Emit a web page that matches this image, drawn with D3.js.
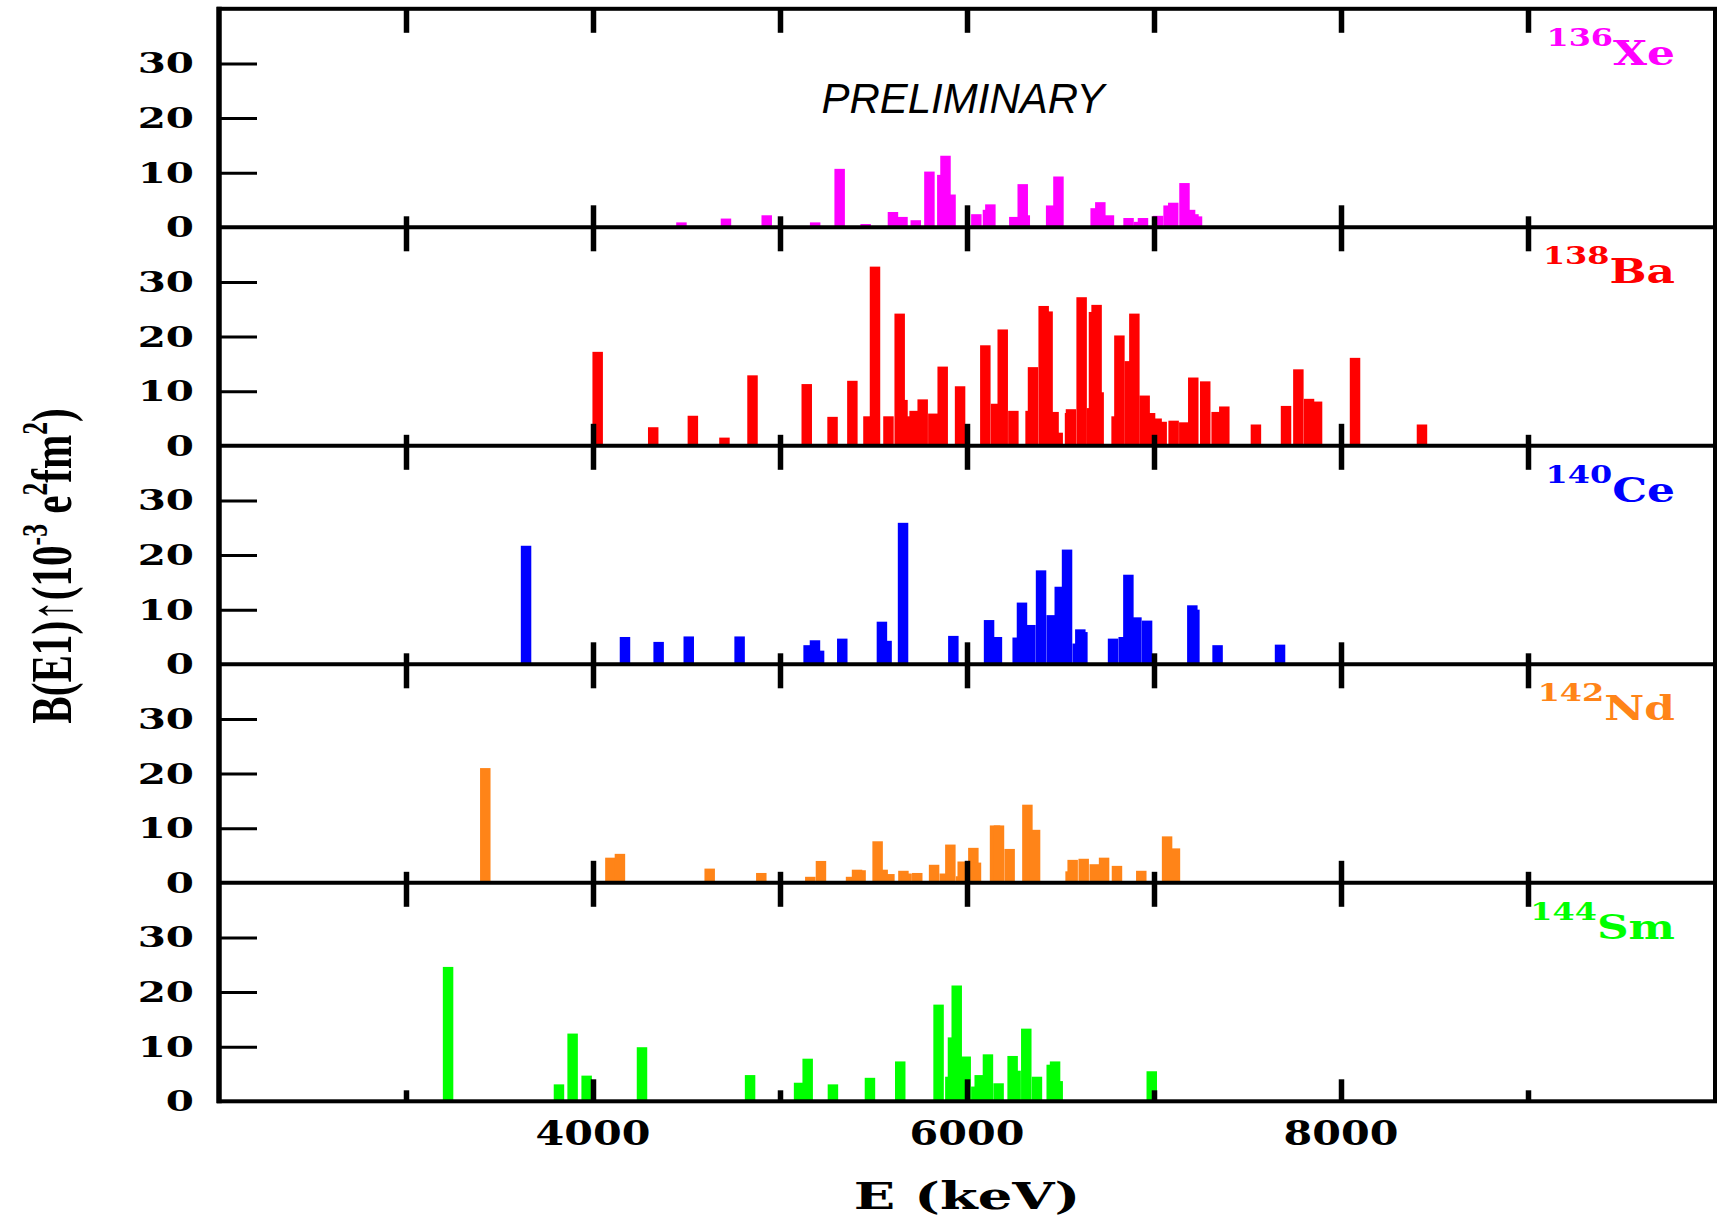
<!DOCTYPE html>
<html>
<head>
<meta charset="utf-8">
<script src="https://cdn.jsdelivr.net/npm/d3@7"></script>
<style>
  body { margin: 0; background: #fff; }
  svg { display: block; }
</style>
</head>
<body>
<svg id="chart" width="1722" height="1217"></svg>
<script>
// ---- data: E1 strength B(E1)↑ (10^-3 e^2 fm^2) versus excitation energy (keV) ----
const xeEnergy   = [4473, 4711, 4929, 5188, 5319, 5458, 5604, 5655, 5726, 5799, 5868, 5885, 5912, 6050, 6112, 6125, 6253, 6298, 6309, 6450, 6489, 6688, 6713, 6759, 6864, 6920, 6941, 7022, 7078, 7103, 7163, 7193, 7211, 7230];
const xeStrength = [0.9, 1.6, 2.2, 0.9, 10.7, 0.6, 2.8, 1.9, 1.3, 10.2, 9.6, 13.1, 6.0, 2.4, 3.2, 4.2, 1.9, 7.9, 2.2, 4.0, 9.3, 3.5, 4.6, 2.2, 1.7, 1.0, 1.7, 2.1, 4.0, 4.5, 8.1, 3.2, 2.4, 2.0];

const baEnergy   = [4025, 4322, 4534, 4703, 4853, 5143, 5281, 5387, 5473, 5508, 5580, 5640, 5655, 5690, 5720, 5763, 5820, 5870, 5963, 6098, 6155, 6191, 6248, 6340, 6353, 6410, 6431, 6463, 6485, 6551, 6556, 6613, 6668, 6679, 6693, 6704, 6800, 6815, 6870, 6895, 6950, 6979, 7014, 7041, 7105, 7162, 7210, 7274, 7335, 7376, 7545, 7706, 7772, 7829, 7872, 8075, 8433];
const baStrength = [17.2, 3.4, 5.5, 1.5, 12.9, 11.3, 5.3, 11.9, 5.4, 32.8, 5.4, 24.2, 8.4, 5.4, 6.4, 8.5, 5.9, 14.5, 10.9, 18.4, 7.7, 21.3, 6.4, 6.4, 14.4, 25.6, 24.6, 6.2, 2.4, 6.0, 6.7, 27.2, 6.9, 24.5, 25.8, 9.8, 5.4, 20.2, 15.5, 24.2, 9.2, 6.0, 5.0, 4.4, 4.6, 4.3, 12.5, 11.8, 6.2, 7.2, 3.9, 7.3, 14.0, 8.6, 8.1, 16.1, 3.9];

const ceEnergy   = [3642, 4171, 4351, 4512, 4784, 5153, 5187, 5209, 5333, 5545, 5570, 5658, 5927, 6118, 6160, 6271, 6294, 6339, 6396, 6453, 6496, 6535, 6592, 6606, 6617, 6781, 6838, 6863, 6906, 6963, 7205, 7216, 7340, 7674];
const ceStrength = [21.7, 5.0, 4.1, 5.1, 5.1, 3.5, 4.4, 2.5, 4.7, 7.8, 4.3, 25.9, 5.2, 8.1, 5.0, 4.9, 11.3, 7.2, 17.2, 9.0, 14.2, 21.0, 3.8, 6.4, 5.9, 4.7, 5.0, 16.4, 8.6, 8.0, 10.8, 10.0, 3.5, 3.6];

const ndEnergy   = [3424, 4093, 4144, 4624, 4900, 5162, 5219, 5380, 5412, 5431, 5522, 5549, 5585, 5660, 5677, 5734, 5824, 5881, 5911, 5968, 5977, 6034, 6048, 6150, 6171, 6228, 6323, 6364, 6554, 6565, 6624, 6683, 6733, 6802, 6932, 7070, 7112];
const ndStrength = [21.0, 4.6, 5.3, 2.6, 1.8, 1.1, 4.0, 1.1, 2.4, 2.3, 7.6, 2.4, 1.6, 2.2, 1.7, 1.8, 3.3, 1.7, 7.0, 1.2, 3.9, 6.4, 3.7, 10.5, 10.5, 6.2, 14.3, 9.7, 2.1, 4.2, 4.4, 3.4, 4.6, 3.1, 2.2, 8.5, 6.3];

const smEnergy   = [3225, 3818, 3891, 3966, 4262, 4840, 5102, 5148, 5283, 5481, 5643, 5848, 5911, 5925, 5945, 5993, 6050, 6068, 6112, 6169, 6244, 6260, 6317, 6374, 6453, 6471, 6485, 6988];
const smStrength = [24.6, 3.1, 12.4, 4.7, 9.9, 4.8, 3.4, 7.8, 3.1, 4.3, 7.3, 17.7, 4.5, 11.7, 21.2, 8.2, 2.7, 4.8, 8.6, 3.3, 8.3, 5.6, 13.3, 4.5, 6.7, 7.3, 3.7, 5.5];

const nucleusMass   = ["136", "138", "140", "142", "144"];
const nucleusSymbol = ["Xe", "Ba", "Ce", "Nd", "Sm"];

// ---- axes ----
const energyDomain   = [2000, 10000];
const strengthDomain = [0, 40];
const xMajorTicks    = [4000, 6000, 8000];
const xMinorTicks    = [3000, 5000, 7000, 9000];
const yTickValues    = [0, 10, 20, 30];
const binWidth       = 56;   // keV, width of each strength bar

// ---- layout / style ----
const plotLeft = 219, plotRight = 1715, plotTop = 8.8, panelH = 218.5;
const colors = ["#ff00ff", "#ff0000", "#0000ff", "#ff8418", "#00ff00"];
const heavySerif = "'DejaVu Serif', serif";
const textSerif  = "'Liberation Serif', 'Times New Roman', serif";

const energySets   = [xeEnergy, baEnergy, ceEnergy, ndEnergy, smEnergy];
const strengthSets = [xeStrength, baStrength, ceStrength, ndStrength, smStrength];

const panels = nucleusSymbol.map((sym, i) => ({
  mass: nucleusMass[i],
  symbol: sym,
  color: colors[i],
  bars: d3.zip(energySets[i], strengthSets[i])
}));

const svg = d3.select("#chart");
svg.append("rect").attr("width", 1722).attr("height", 1217).attr("fill", "#fff");

const x = d3.scaleLinear().domain(energyDomain).range([plotLeft, plotRight]);
const y = d3.scaleLinear().domain(strengthDomain).range([panelH, 0]);

// text stretched horizontally inside its own group
function stretched(parent, tx, ty, sx, anchor) {
  return parent.append("g")
    .attr("transform", `translate(${tx},${ty}) scale(${sx},1)`)
    .append("text")
    .attr("text-anchor", anchor);
}

function noDomain(g) { g.select(".domain").remove(); }

panels.forEach((p, i) => {
  const g = svg.append("g").attr("transform", `translate(0,${plotTop + i * panelH})`);

  // bars
  g.selectAll("rect.bar").data(p.bars).join("rect")
    .attr("class", "bar")
    .attr("x", d => x(d[0] - binWidth / 2))
    .attr("width", d => x(d[0] + binWidth / 2) - x(d[0] - binWidth / 2))
    .attr("y", d => y(d[1]))
    .attr("height", d => y(0) - y(d[1]))
    .attr("fill", p.color);

  // energy ticks: long ones hanging from the top edge
  g.append("g")
    .call(d3.axisBottom(x).tickValues(xMajorTicks.concat(xMinorTicks)).tickSize(24).tickFormat(""))
    .call(noDomain);
  // rising from the bottom edge: long at labelled values, short in between
  g.append("g").attr("transform", `translate(0,${panelH})`)
    .call(d3.axisTop(x).tickValues(xMajorTicks).tickSize(22).tickFormat(""))
    .call(noDomain);
  g.append("g").attr("transform", `translate(0,${panelH})`)
    .call(d3.axisTop(x).tickValues(xMinorTicks).tickSize(11).tickFormat(""))
    .call(noDomain);

  // strength ticks
  g.append("g").attr("class", "yticks").attr("transform", `translate(${plotLeft},0)`)
    .call(d3.axisRight(y).tickValues(yTickValues.filter(v => v > 0)).tickSize(38).tickFormat(""))
    .call(noDomain);

  // strength tick labels
  yTickValues.forEach(v => {
    stretched(g, 194, y(v) + 10, 1.5, "end")
      .attr("font-family", heavySerif).attr("font-weight", "bold")
      .attr("font-size", 27).attr("fill", "#000")
      .text(v);
  });

  // nucleus label
  const lab = stretched(g, 1675, 56, 1.33, "end")
    .attr("font-family", heavySerif).attr("font-weight", "bold")
    .attr("fill", p.color);
  lab.append("tspan").attr("font-size", 24).attr("dy", -19).text(p.mass);
  lab.append("tspan").attr("font-size", 33).attr("dy", 19).text(p.symbol);
});

// style all tick lines
svg.selectAll(".tick line").attr("stroke", "#000").attr("stroke-width", 5.5);
svg.selectAll(".yticks .tick line").attr("stroke-width", 3);

// frame and panel dividers
const plotBottom = plotTop + panelH * panels.length;
svg.append("rect")
  .attr("x", plotLeft).attr("y", plotTop).attr("width", plotRight - plotLeft).attr("height", plotBottom - plotTop)
  .attr("fill", "none").attr("stroke", "#000").attr("stroke-width", 4);
d3.range(1, panels.length).forEach(k => {
  svg.append("line")
    .attr("x1", plotLeft).attr("x2", plotRight)
    .attr("y1", plotTop + k * panelH).attr("y2", plotTop + k * panelH)
    .attr("stroke", "#000").attr("stroke-width", 4);
});
svg.append("line")
  .attr("x1", plotLeft).attr("x2", plotLeft).attr("y1", plotTop - 2).attr("y2", plotBottom + 2)
  .attr("stroke", "#000").attr("stroke-width", 5.5);

// energy tick labels
xMajorTicks.forEach(v => {
  stretched(svg, x(v), 1145, 1.25, "middle")
    .attr("font-family", heavySerif).attr("font-weight", "bold")
    .attr("font-size", 33).attr("fill", "#000")
    .text(v);
});

// axis titles
stretched(svg, (plotLeft + plotRight) / 2, 1209, 1.47, "middle")
  .attr("font-family", heavySerif).attr("font-weight", "bold")
  .attr("font-size", 37).attr("fill", "#000")
  .text("E (keV)");

const yTitle = svg.append("g")
  .attr("transform", `translate(71,566) rotate(-90) scale(0.71,1)`)
  .append("text")
  .attr("text-anchor", "middle")
  .attr("font-family", textSerif).attr("font-weight", "bold")
  .attr("font-size", 58).attr("fill", "#000");
yTitle.append("tspan").text("B(E1)\u2191(10");
yTitle.append("tspan").attr("font-size", 36).attr("dy", -24).text("-3");
yTitle.append("tspan").attr("dy", 24).text(" e");
yTitle.append("tspan").attr("font-size", 36).attr("dy", -24).text("2");
yTitle.append("tspan").attr("dy", 24).text("fm");
yTitle.append("tspan").attr("font-size", 36).attr("dy", -24).text("2");
yTitle.append("tspan").attr("dy", 24).text(")");

// status note
svg.append("text")
  .attr("x", 963).attr("y", 113)
  .attr("text-anchor", "middle")
  .attr("font-family", "'Liberation Sans', Arial, sans-serif")
  .attr("font-style", "italic")
  .attr("font-size", 42).attr("fill", "#000")
  .text("PRELIMINARY");
</script>
</body>
</html>
